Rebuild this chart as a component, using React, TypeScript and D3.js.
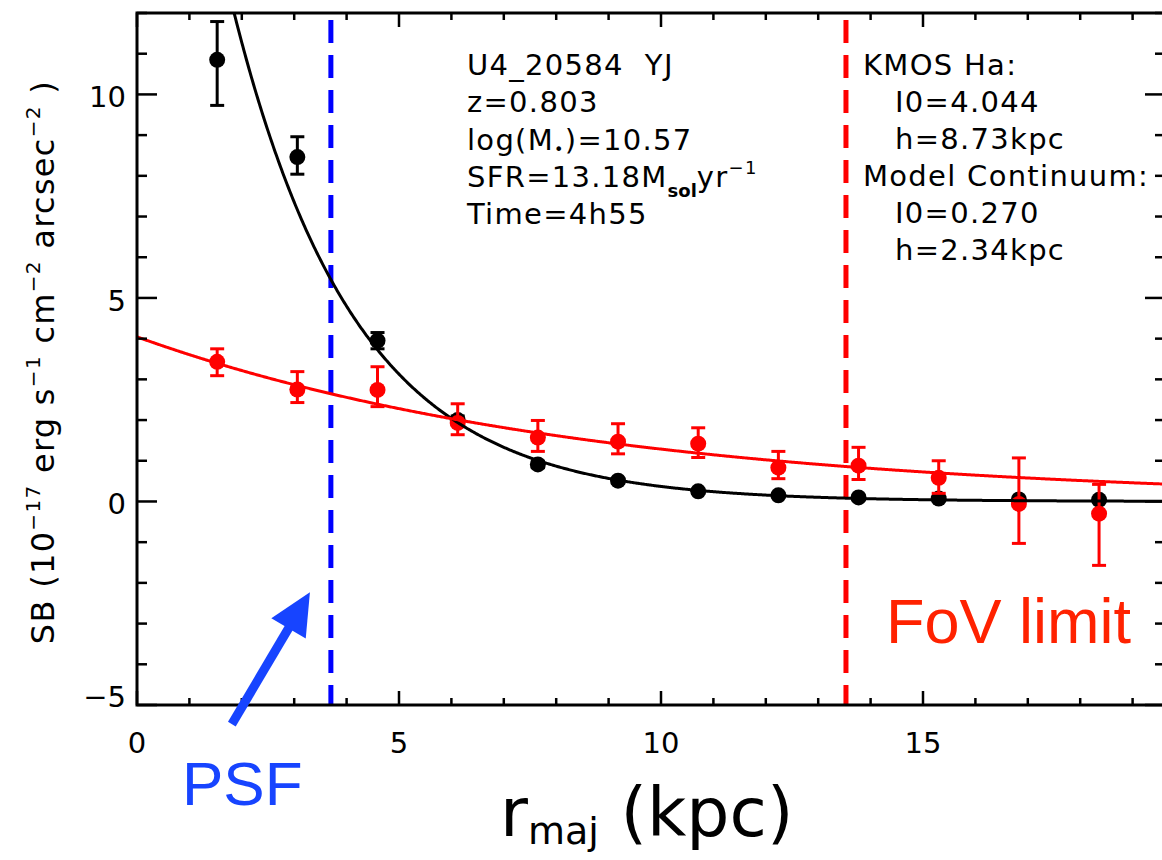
import React from 'react';
import * as d3 from 'd3';

// ---------- data ----------
const radii = [1.53, 3.06, 4.59, 6.12, 7.65, 9.18, 10.71, 12.24, 13.77, 15.3, 16.83, 18.36];
const contSB = [10.85, 8.46, 3.95, 2.0, 0.91, 0.51, 0.25, 0.15, 0.1, 0.07, 0.05, 0.04];
const contErrHi = [0.94, 0.5, 0.2, 0.1, 0.08, 0.06, 0.05, 0.04, 0.04, 0.03, 0.03, 0.03];
const contErrLo = [1.12, 0.42, 0.2, 0.1, 0.08, 0.06, 0.05, 0.04, 0.04, 0.03, 0.03, 0.03];

const haSB = [3.43, 2.75, 2.74, 1.93, 1.57, 1.47, 1.42, 0.83, 0.88, 0.58, -0.06, -0.3];
const haErrHi = [0.32, 0.44, 0.57, 0.47, 0.42, 0.44, 0.39, 0.4, 0.45, 0.42, 1.13, 0.72];
const haErrLo = [0.34, 0.32, 0.41, 0.29, 0.34, 0.3, 0.34, 0.27, 0.34, 0.38, 0.97, 1.27];

// exponential model parameters
const haI0 = 4.044;
const haH = 8.73;
const contAmp = 26.5; // plotted amplitude of the continuum model
const contH = 2.34;

const psfRadius = 3.7;
const fovRadius = 13.53;

const xTicksMajor = [0, 5, 10, 15, 20];
const xTickLabels = [0, 5, 10, 15];
const yTicksMajor = [-5, 0, 5, 10];

const leftLines = ['U4_20584\u00a0\u00a0YJ', 'z=0.803'];
const rightLines = [
  { t: 'KMOS Ha:', indent: false },
  { t: 'I0=4.044', indent: true },
  { t: 'h=8.73kpc', indent: true },
  { t: 'Model Continuum:', indent: false },
  { t: 'I0=0.270', indent: true },
  { t: 'h=2.34kpc', indent: true },
];

// ---------- layout ----------
const W = 1162;
const H = 860;
const plotL = 137;
const plotR = 1165;
const plotT = 13;
const plotB = 705;

const x = d3.scaleLinear().domain([0, (plotR - plotL) / 52.4]).range([plotL, plotR]);
const y = d3.scaleLinear().domain([-5, 12]).range([plotB, plotT]);

const annFont = "'DejaVu Sans', sans-serif";
const RED = '#ff0000';
const ARROW_BLUE = '#1744ff';

function modelPath(amp: number, h: number) {
  const xs = d3.range(0, x.domain()[1] + 0.01, 0.02);
  return d3
    .line<number>()
    .x((d) => x(d))
    .y((d) => y(amp * Math.exp(-d / h)))(xs) as string;
}

function ErrPoints({ vals, hi, lo, color }: { vals: number[]; hi: number[]; lo: number[]; color: string }) {
  return (
    <g>
      {radii.map((r, i) => {
        const cx = x(r);
        const yt = y(vals[i] + hi[i]);
        const yb = y(vals[i] - lo[i]);
        return (
          <g key={i}>
            <line x1={cx} x2={cx} y1={yt} y2={yb} stroke={color} strokeWidth={3} />
            <line x1={cx - 7} x2={cx + 7} y1={yt} y2={yt} stroke={color} strokeWidth={3} />
            <line x1={cx - 7} x2={cx + 7} y1={yb} y2={yb} stroke={color} strokeWidth={3} />
            <circle cx={cx} cy={y(vals[i])} r={8} fill={color} />
          </g>
        );
      })}
    </g>
  );
}

export default function App() {
  const xMinor = d3.range(0, 21, 1);
  const yMinor = d3.range(-5, 13, 1);

  // arrow geometry (data space tip & tail)
  const tail = [x(1.81), y(-5.47)];
  const tip = [x(3.3), y(-2.23)];
  const dx = tip[0] - tail[0];
  const dy = tip[1] - tail[1];
  const len = Math.hypot(dx, dy);
  const ux = dx / len;
  const uy = dy / len;
  const headLen = 42;
  const headHalf = 20;
  const bx = tip[0] - ux * headLen;
  const by = tip[1] - uy * headLen;
  const px = -uy;
  const py = ux;
  const head = [
    [tip[0], tip[1]],
    [bx + px * headHalf, by + py * headHalf],
    [bx - px * headHalf, by - py * headHalf],
  ];

  return (
    <svg
      width={W}
      height={H}
      style={{ position: 'absolute', left: 0, top: 0, background: '#fff' }}
      fontFamily={annFont}
    >
      <defs>
        <clipPath id="plotClip">
          <rect x={plotL} y={plotT} width={plotR - plotL} height={plotB - plotT} />
        </clipPath>
      </defs>

      {/* vertical reference lines */}
      <line
        x1={x(psfRadius)}
        x2={x(psfRadius)}
        y1={plotT}
        y2={plotB}
        stroke="#0000ff"
        strokeWidth={5}
        strokeDasharray="23 12"
        strokeDashoffset={28}
      />
      <line
        x1={x(fovRadius)}
        x2={x(fovRadius)}
        y1={plotT}
        y2={plotB}
        stroke={RED}
        strokeWidth={5}
        strokeDasharray="23 12"
        strokeDashoffset={28}
      />

      {/* data */}
      <g clipPath="url(#plotClip)">
        <ErrPoints vals={contSB} hi={contErrHi} lo={contErrLo} color="#000" />
        <ErrPoints vals={haSB} hi={haErrHi} lo={haErrLo} color={RED} />
        <path d={modelPath(contAmp, contH)} fill="none" stroke="#000" strokeWidth={3} />
        <path d={modelPath(haI0, haH)} fill="none" stroke={RED} strokeWidth={3} />
      </g>

      {/* frame */}
      <rect x={plotL} y={plotT} width={plotR - plotL} height={plotB - plotT} fill="none" stroke="#000" strokeWidth={3} />

      {/* x ticks bottom & top */}
      {xMinor.map((v) => {
        const major = xTicksMajor.includes(v);
        const L = major ? 14 : 7;
        return (
          <g key={'xt' + v}>
            <line x1={x(v)} x2={x(v)} y1={plotB} y2={plotB - L} stroke="#000" strokeWidth={2.5} />
            <line x1={x(v)} x2={x(v)} y1={plotT} y2={plotT + L} stroke="#000" strokeWidth={2.5} />
          </g>
        );
      })}
      {/* y ticks left & right */}
      {yMinor.map((v) => {
        const major = yTicksMajor.includes(v);
        const L = major ? 20 : 10;
        return (
          <g key={'yt' + v}>
            <line x1={plotL} x2={plotL + L} y1={y(v)} y2={y(v)} stroke="#000" strokeWidth={2.5} />
            <line x1={plotR} x2={plotR - L} y1={y(v)} y2={y(v)} stroke="#000" strokeWidth={2.5} />
          </g>
        );
      })}

      {/* tick labels */}
      {xTickLabels.map((v) => (
        <text key={'xl' + v} x={x(v)} y={753} fontSize={29} textAnchor="middle">
          {v}
        </text>
      ))}
      {yTicksMajor.map((v) => (
        <text key={'yl' + v} x={126} y={Math.min(y(v) + 13, plotB + 2)} fontSize={29} textAnchor="end">
          {v < 0 ? '\u2212' + Math.abs(v) : v}
        </text>
      ))}

      {/* y axis title */}
      <text transform="translate(54,362) rotate(-90)" fontSize={32} textAnchor="middle" letterSpacing={1.3}>
        SB (10
        <tspan fontSize={20} dy={-14}>
          {'\u221217'}
        </tspan>
        <tspan dy={14}> erg s</tspan>
        <tspan fontSize={20} dy={-14}>
          {'\u22121'}
        </tspan>
        <tspan dy={14}> cm</tspan>
        <tspan fontSize={20} dy={-14}>
          {'\u22122'}
        </tspan>
        <tspan dy={14}> arcsec</tspan>
        <tspan fontSize={20} dy={-14}>
          {'\u22122'}
        </tspan>
        <tspan dy={14}> )</tspan>
      </text>

      {/* x axis title */}
      <text x={500} y={836} fontSize={68} fontFamily="'DejaVu Sans', sans-serif">
        r
        <tspan fontSize={38} dy={8}>
          maj
        </tspan>
        <tspan dy={-8}> (kpc)</tspan>
      </text>

      {/* left annotation */}
      <g fontSize={29} letterSpacing={1.3}>
        {leftLines.map((t, i) => (
          <text key={t} x={467} y={75 + i * 37.3}>
            {t}
          </text>
        ))}
        <text x={467} y={75 + 2 * 37.3}>
          log(M
          <tspan fontSize={16} dy={5}>
            {'\u2022'}
          </tspan>
          <tspan dy={-5}>)=10.57</tspan>
        </text>
        <text x={467} y={75 + 3 * 37.3}>
          SFR=13.18M
          <tspan fontSize={18} dy={10} fontWeight="bold" letterSpacing={0}>
            sol
          </tspan>
          <tspan dy={-10}>yr</tspan>
          <tspan fontSize={18} dy={-13}>
            {'\u22121'}
          </tspan>
        </text>
        <text x={467} y={75 + 4 * 37.3}>
          Time=4h55
        </text>
      </g>

      {/* right annotation */}
      <g fontSize={29} letterSpacing={1.3}>
        {rightLines.map((l, i) => (
          <text key={l.t + i} x={l.indent ? 895 : 863} y={75 + i * 37}>
            {l.t}
          </text>
        ))}
      </g>

      {/* PSF arrow */}
      <line x1={tail[0]} y1={tail[1]} x2={bx + ux * 2} y2={by + uy * 2} stroke={ARROW_BLUE} strokeWidth={9} />
      <polygon points={head.map((p) => p.join(',')).join(' ')} fill={ARROW_BLUE} />
      <text x={182} y={805} fontSize={62} fill={ARROW_BLUE} fontFamily="'Liberation Sans', Arial, sans-serif">
        PSF
      </text>

      {/* FoV label */}
      <text x={886} y={643} fontSize={63} fill="#ff2200" fontFamily="'Liberation Sans', Arial, sans-serif">
        FoV limit
      </text>
    </svg>
  );
}
